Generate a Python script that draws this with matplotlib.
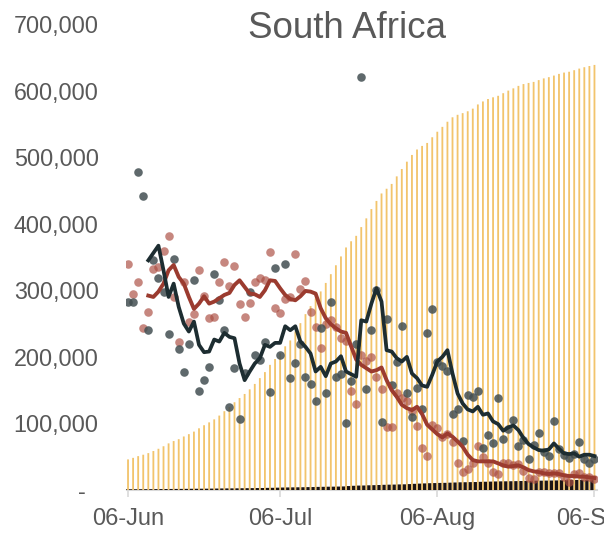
import numpy as np
import pandas as pd
import matplotlib
matplotlib.use('Agg')
import matplotlib.pyplot as plt
import matplotlib.dates as mdates

plt.rcParams['font.family'] = ['Liberation Sans', 'DejaVu Sans']

# one entry per day, 06-Jun .. 06-Sep
dates = pd.date_range('2020-06-06', '2020-09-06')

# cumulative cases (yellow bars)
cum_cases = [45973, 48285, 50879, 52991, 55421, 58568, 61927, 65736, 70038, 73533,
             76334, 80412, 83890, 87715, 92681, 97302, 101590, 106108, 111796, 118375,
             124590, 131800, 138134, 144264, 151209, 159333, 168061, 177124, 187977, 196750,
             205721, 215855, 224665, 238339, 250687, 264184, 276242, 287796, 298292, 311049,
             324221, 337594, 350879, 364328, 373628, 381798, 394948, 408052, 421996, 434200,
             445433, 452529, 459761, 471123, 482169, 493183, 503290, 511485, 516862, 521318,
             529877, 538184, 545476, 553188, 559859, 563598, 566109, 568919, 572865, 579140,
             583653, 587345, 589886, 592144, 596060, 599940, 603338, 607045, 609773, 611450,
             613017, 615701, 618286, 620132, 622551, 625056, 627041, 628259, 630595, 633015,
             635078, 636884, 638517]

# cumulative deaths (black bars)
cum_deaths = [998, 1080, 1106, 1162, 1210, 1284, 1354, 1423, 1480, 1568,
              1625, 1674, 1737, 1831, 1877, 1930, 1991, 2102, 2205, 2340,
              2413, 2456, 2529, 2657, 2749, 2844, 2952, 3026, 3199, 3310,
              3502, 3720, 3860, 3971, 4079, 4172, 4346, 4453, 4669, 4804,
              4948, 5033, 5173, 5368, 5940, 6343, 6655, 6769, 7067, 7257,
              7497, 7812, 8005, 8153, 8366, 8539, 8884, 9298, 9604, 9909,
              10210, 10408, 10621, 10751, 11010, 11270, 11556, 11677, 11839, 11982,
              12264, 12423, 12618, 12843, 12987, 13059, 13159, 13308, 13502, 13628,
              13743, 13981, 14028, 14149, 14263, 14389, 14678, 14889, 15004, 15086,
              15168, 15265, 15378]

# daily points, in thousands
dark_pts = [283, 282, 478, 442, 240, 345, 318, 297, 234, 347,
            212, 177, 220, 315, 148, 165, 185, 325, 285, 240,
            124, 183, 106, 176, 298, 203, 195, 223, 147, 334,
            203, 339, 168, 191, 219, 169, 159, 134, 243, 145,
            283, 170, 175, 101, 163, 220, 620, 151, 240, 300,
            102, 257, 158, 193, 246, 145, 109, 153, 121, 236,
            272, 193, 186, 179, 114, 121, 73, 142, 139, 149,
            63, 83, 71, 138, 76, 92, 105, 66, 75, 46,
            68, 86, 57, 51, 103, 62, 52, 48, 54, 72,
            46, 41, 46]

red_pts = [340, 294, 313, 243, 267, 332, 335, 359, 381, 290,
           223, 312, 253, 265, 330, 291, 258, 260, 313, 343,
           306, 337, 280, 260, 281, 313, 319, 315, 357, 273,
           266, 287, 290, 355, 302, 314, 267, 245, 214, 249,
           255, 245, 229, 224, 149, 129, 203, 194, 200, 169,
           151, 94, 94, 145, 138, 134, 118, 96, 63, 51,
           98, 93, 80, 84, 72, 41, 27, 31, 41, 66,
           49, 40, 27, 24, 40, 40, 38, 39, 28, 18,
           17, 27, 27, 25, 25, 26, 19, 12, 24, 25,
           20, 20, 17]

# smoothed lines, start on 10-Jun (thousands)
dark_line = [345, 356, 367, 330, 290, 310, 275, 250, 238, 253,
             218, 207, 208, 226, 223, 236, 230, 228, 190, 165,
             178, 190, 198, 218, 215, 221, 221, 246, 240, 246,
             223, 215, 205, 178, 185, 171, 190, 193, 201, 178,
             174, 170, 255, 253, 280, 303, 283, 210, 208, 198,
             193, 200, 175, 168, 157, 155, 173, 193, 200, 210,
             175, 145, 130, 121, 118, 125, 113, 115, 103, 99,
             89, 94, 97, 90, 78, 69, 64, 60, 59, 61,
             70, 62, 55, 54, 55, 50, 53, 53, 51]

red_line = [292, 290, 298, 310, 330, 338, 320, 310, 290, 272,
            280, 291, 280, 283, 288, 293, 296, 308, 315, 305,
            295, 294, 290, 300, 315, 314, 303, 293, 287, 285,
            291, 299, 298, 295, 273, 258, 249, 243, 238, 236,
            216, 196, 188, 183, 178, 180, 184, 165, 150, 140,
            128, 123, 120, 125, 114, 98, 91, 84, 79, 85,
            80, 73, 65, 53, 45, 43, 43, 43, 43, 40,
            37, 35, 36, 37, 34, 30, 28, 27, 25, 24,
            25, 24, 22, 21, 21, 20, 20, 19, 18]

x = mdates.date2num(dates)
line_x = x[4:]

fig = plt.figure(figsize=(6.04, 5.39), dpi=100)
ax = fig.add_axes([126.5 / 604, 49 / 539, 470.5 / 604, 466 / 539])

ax.bar(x, cum_cases, width=0.36, color='#F2C46C', zorder=1, snap=False)
ax.bar(x - 0.5, cum_deaths, width=0.64, color='#1c1414', zorder=2, snap=False)

ax.scatter(x, np.array(red_pts) * 1000, s=38, color='#ab4e43', alpha=0.68,
           linewidths=0, zorder=3)
ax.scatter(x, np.array(dark_pts) * 1000, s=38, color='#434f52', alpha=0.85,
           linewidths=0, zorder=3)

ax.plot(line_x, np.array(red_line) * 1000, color='#9b3b2f', lw=2.8, zorder=4)
ax.plot(line_x, np.array(dark_line) * 1000, color='#1d2d31', lw=2.7, zorder=5)

ax.set_ylim(0, 700000)
ax.set_xlim(x[0] - 0.3, x[-1] + 0.5)

yt = list(range(0, 700001, 100000))
ax.set_yticks(yt)
ax.set_yticklabels(['-  '] + [f'{v:,}' for v in yt[1:]])

tick_dates = pd.to_datetime(['2020-06-06', '2020-07-06', '2020-08-06', '2020-09-06'])
ax.set_xticks(mdates.date2num(tick_dates))
ax.set_xticklabels([d.strftime('%d-%b') for d in tick_dates])

ax.tick_params(axis='y', length=0, pad=20, labelsize=16.8, labelcolor='#595959')
ax.tick_params(axis='x', length=5, width=1.2, color='#d9d9d9', pad=8,
               labelsize=17, labelcolor='#595959')

for s in ['left', 'top', 'right']:
    ax.spines[s].set_visible(False)
ax.spines['bottom'].set_color('#d9d9d9')
ax.spines['bottom'].set_linewidth(1.5)
ax.spines['bottom'].set_zorder(0)

fig.text(347 / 604, 1 - 29 / 539, 'South Africa', ha='center', va='center',
         fontsize=26.5, color='#595959')

fig.savefig('out.png', dpi=100)
